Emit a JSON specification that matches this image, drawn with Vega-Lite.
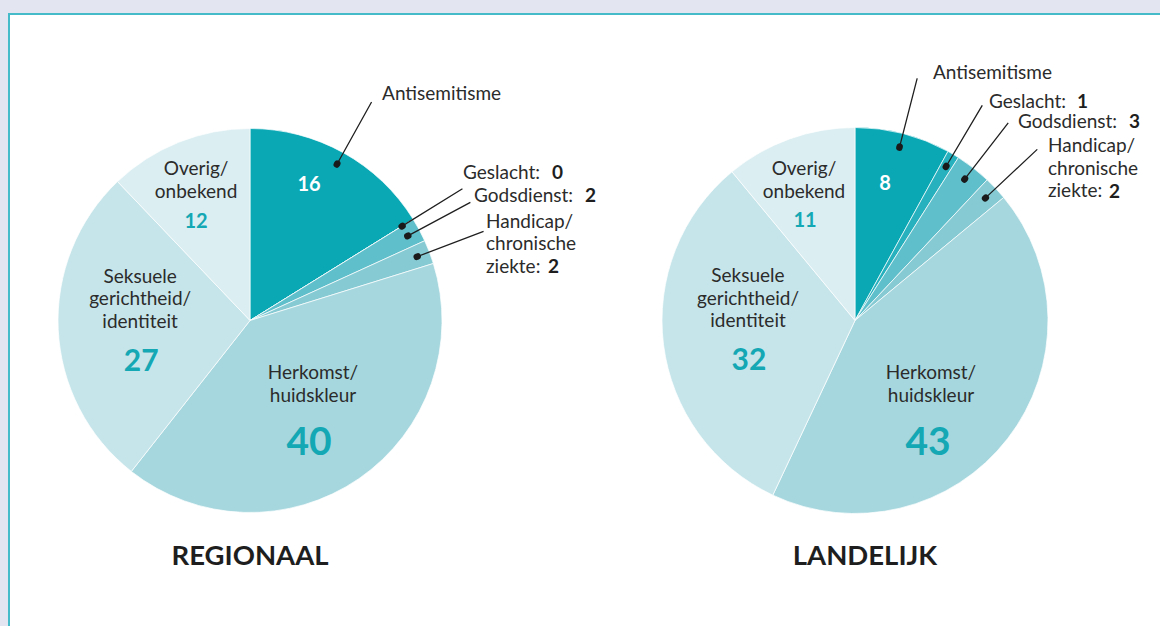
{
  "$schema": "https://vega.github.io/schema/vega-lite/v6.json",
  "width": 1156,
  "height": 613,
  "autosize": "none",
  "padding": {"left": 9, "top": 14, "right": -5, "bottom": -1},
  "background": "#e3e6f0",
  "config": {
    "font": "Lato",
    "view": {"stroke": "#45bac8", "strokeWidth": 2, "fill": "#ffffff"}
  },
  "data": {
    "values": [
      {"scope": "REGIONAAL", "cat": "Antisemitisme", "idx": 1, "value": 16, "name": "Antisemitisme"},
      {"scope": "REGIONAAL", "cat": "Geslacht", "idx": 2, "value": 0, "name": "Geslacht:"},
      {"scope": "REGIONAAL", "cat": "Godsdienst", "idx": 3, "value": 2, "name": "Godsdienst:"},
      {"scope": "REGIONAAL", "cat": "Handicap", "idx": 4, "value": 2, "name": "Handicap/\nchronische\nziekte:"},
      {"scope": "REGIONAAL", "cat": "Herkomst", "idx": 5, "value": 40, "name": "Herkomst/\nhuidskleur"},
      {"scope": "REGIONAAL", "cat": "Seksuele", "idx": 6, "value": 27, "name": "Seksuele\ngerichtheid/\nidentiteit"},
      {"scope": "REGIONAAL", "cat": "Overig", "idx": 7, "value": 12, "name": "Overig/\nonbekend"},
      {"scope": "LANDELIJK", "cat": "Antisemitisme", "idx": 1, "value": 8, "name": "Antisemitisme"},
      {"scope": "LANDELIJK", "cat": "Geslacht", "idx": 2, "value": 1, "name": "Geslacht:"},
      {"scope": "LANDELIJK", "cat": "Godsdienst", "idx": 3, "value": 3, "name": "Godsdienst:"},
      {"scope": "LANDELIJK", "cat": "Handicap", "idx": 4, "value": 2, "name": "Handicap/\nchronische\nziekte:"},
      {"scope": "LANDELIJK", "cat": "Herkomst", "idx": 5, "value": 43, "name": "Herkomst/\nhuidskleur"},
      {"scope": "LANDELIJK", "cat": "Seksuele", "idx": 6, "value": 32, "name": "Seksuele\ngerichtheid/\nidentiteit"},
      {"scope": "LANDELIJK", "cat": "Overig", "idx": 7, "value": 11, "name": "Overig/\nonbekend"}
    ]
  },
  "encoding": {
    "x": {
      "field": "scope",
      "type": "nominal",
      "axis": null,
      "scale": {"type": "point", "domain": ["REGIONAAL", "LANDELIJK"], "padding": 0.4554, "align": 0.4374}
    }
  },
  "layer": [
    {
      "transform": [{"filter": "datum.scope === 'REGIONAAL'"}],
      "encoding": {
        "theta": {"field": "value", "type": "quantitative", "stack": "normalize"},
        "order": {"field": "idx", "type": "quantitative"},
        "detail": {"field": "cat", "type": "nominal"}
      },
      "layer": [
        {
          "mark": {"type": "arc", "radius": 192, "stroke": "#ffffff", "strokeWidth": 0.7},
          "encoding": {
            "color": {
              "field": "cat", "type": "nominal", "legend": null,
              "scale": {
                "domain": ["Antisemitisme", "Geslacht", "Godsdienst", "Handicap", "Herkomst", "Seksuele", "Overig"],
                "range": ["#0aa8b5", "#27b0bd", "#5fbfcb", "#86cbd4", "#a6d7de", "#c6e5ea", "#dbeef2"]
              }
            }
          }
        },
        {
          "mark": {"type": "arc", "radius": 250, "radius2": 178, "padAngle": 1, "stroke": "#1f1f1f", "strokeWidth": 1.3, "fillOpacity": 0},
          "encoding": {"strokeOpacity": {"condition": {"test": "datum.idx <= 4", "value": 1}, "value": 0}}
        },
        {
          "mark": {"type": "arc", "radius": 179.5, "radius2": 178.5, "padAngle": 1, "stroke": "#1a1a1a", "strokeWidth": 6.5, "strokeJoin": "round", "strokeCap": "round", "fillOpacity": 0},
          "encoding": {"strokeOpacity": {"condition": {"test": "datum.idx <= 4", "value": 1}, "value": 0}}
        },
        {
          "mark": {"type": "text", "radius": 258, "dx": 6.6, "dy": -1, "align": "left", "baseline": "middle", "fontSize": 19, "color": "#2b2b2b"},
          "encoding": {"text": {"condition": {"test": "datum.cat === 'Antisemitisme'", "field": "name"}, "value": ""}}
        },
        {
          "mark": {"type": "text", "radius": 258, "dx": -6.2, "dy": -11.5, "align": "left", "baseline": "middle", "fontSize": 19, "color": "#2b2b2b"},
          "encoding": {"text": {"condition": {"test": "datum.cat === 'Geslacht'", "field": "name"}, "value": ""}}
        },
        {
          "mark": {"type": "text", "radius": 258, "dx": 82.8, "dy": -11.5, "align": "left", "baseline": "middle", "fontSize": 19, "fontWeight": "bold", "color": "#1e1e1e"},
          "encoding": {"text": {"condition": {"test": "datum.cat === 'Geslacht'", "field": "value"}, "value": ""}}
        },
        {
          "mark": {"type": "text", "radius": 258, "dx": -3.4, "dy": -2.7, "align": "left", "baseline": "middle", "fontSize": 19, "color": "#2b2b2b"},
          "encoding": {"text": {"condition": {"test": "datum.cat === 'Godsdienst'", "field": "name"}, "value": ""}}
        },
        {
          "mark": {"type": "text", "radius": 258, "dx": 107.6, "dy": -2.7, "align": "left", "baseline": "middle", "fontSize": 19, "fontWeight": "bold", "color": "#1e1e1e"},
          "encoding": {"text": {"condition": {"test": "datum.cat === 'Godsdienst'", "field": "value"}, "value": ""}}
        },
        {
          "mark": {"type": "text", "radius": 258, "dx": -5, "dy": -6.5, "align": "left", "baseline": "middle", "fontSize": 19, "lineHeight": 22.5, "lineBreak": "\n", "color": "#2b2b2b"},
          "encoding": {"text": {"condition": {"test": "datum.cat === 'Handicap'", "field": "name"}, "value": ""}}
        },
        {
          "mark": {"type": "text", "radius": 258, "dx": 57, "dy": 38.6, "align": "left", "baseline": "middle", "fontSize": 19, "fontWeight": "bold", "color": "#1e1e1e"},
          "encoding": {"text": {"condition": {"test": "datum.cat === 'Handicap'", "field": "value"}, "value": ""}}
        },
        {
          "mark": {"type": "text", "radius": 150, "dx": -13.9, "dy": -4, "align": "center", "baseline": "middle", "fontSize": 20, "fontWeight": "bold", "color": "#ffffff"},
          "encoding": {"text": {"condition": {"test": "datum.cat === 'Antisemitisme'", "field": "value"}, "value": ""}}
        },
        {
          "mark": {"type": "text", "radius": 150, "dx": 1.8, "dy": -11.75, "align": "center", "baseline": "middle", "fontSize": 19, "lineHeight": 22.5, "lineBreak": "\n", "color": "#2b2b2b"},
          "encoding": {"text": {"condition": {"test": "datum.cat === 'Overig'", "field": "name"}, "value": ""}}
        },
        {
          "mark": {"type": "text", "radius": 150, "dx": 1.8, "dy": 40.8, "align": "center", "baseline": "middle", "fontSize": 20, "fontWeight": "bold", "color": "#14a7b4"},
          "encoding": {"text": {"condition": {"test": "datum.cat === 'Overig'", "field": "value"}, "value": ""}}
        },
        {
          "mark": {"type": "text", "radius": 110, "dx": 0, "dy": -49, "align": "center", "baseline": "middle", "fontSize": 19, "lineHeight": 22.5, "lineBreak": "\n", "color": "#2b2b2b"},
          "encoding": {"text": {"condition": {"test": "datum.cat === 'Seksuele'", "field": "name"}, "value": ""}}
        },
        {
          "mark": {"type": "text", "radius": 110, "dx": 1, "dy": 36, "align": "center", "baseline": "middle", "fontSize": 30, "fontWeight": "bold", "color": "#14a7b4"},
          "encoding": {"text": {"condition": {"test": "datum.cat === 'Seksuele'", "field": "value"}, "value": ""}}
        },
        {
          "mark": {"type": "text", "radius": 100, "dx": 6.3, "dy": -29.5, "align": "center", "baseline": "middle", "fontSize": 19, "lineHeight": 22.5, "lineBreak": "\n", "color": "#2b2b2b"},
          "encoding": {"text": {"condition": {"test": "datum.cat === 'Herkomst'", "field": "name"}, "value": ""}}
        },
        {
          "mark": {"type": "text", "radius": 100, "dx": 2.3, "dy": 40, "align": "center", "baseline": "middle", "fontSize": 39, "fontWeight": "bold", "color": "#14a7b4"},
          "encoding": {"text": {"condition": {"test": "datum.cat === 'Herkomst'", "field": "value"}, "value": ""}}
        }
      ]
    },
    {
      "transform": [{"filter": "datum.scope === 'LANDELIJK'"}],
      "encoding": {
        "theta": {"field": "value", "type": "quantitative", "stack": "normalize"},
        "order": {"field": "idx", "type": "quantitative"},
        "detail": {"field": "cat", "type": "nominal"}
      },
      "layer": [
        {
          "mark": {"type": "arc", "radius": 193, "stroke": "#ffffff", "strokeWidth": 0.7},
          "encoding": {
            "color": {
              "field": "cat", "type": "nominal", "legend": null,
              "scale": {
                "domain": ["Antisemitisme", "Geslacht", "Godsdienst", "Handicap", "Herkomst", "Seksuele", "Overig"],
                "range": ["#0aa8b5", "#27b0bd", "#5fbfcb", "#86cbd4", "#a6d7de", "#c6e5ea", "#dbeef2"]
              }
            }
          }
        },
        {
          "mark": {"type": "arc", "radius": 250, "radius2": 178, "padAngle": 1, "stroke": "#1f1f1f", "strokeWidth": 1.3, "fillOpacity": 0},
          "encoding": {"strokeOpacity": {"condition": {"test": "datum.idx <= 4", "value": 1}, "value": 0}}
        },
        {
          "mark": {"type": "arc", "radius": 179.5, "radius2": 178.5, "padAngle": 1, "stroke": "#1a1a1a", "strokeWidth": 6.5, "strokeJoin": "round", "strokeCap": "round", "fillOpacity": 0},
          "encoding": {"strokeOpacity": {"condition": {"test": "datum.idx <= 4", "value": 1}, "value": 0}}
        },
        {
          "mark": {"type": "text", "radius": 258, "dx": 13.8, "dy": 2, "align": "left", "baseline": "middle", "fontSize": 19, "color": "#2b2b2b"},
          "encoding": {"text": {"condition": {"test": "datum.cat === 'Antisemitisme'", "field": "name"}, "value": ""}}
        },
        {
          "mark": {"type": "text", "radius": 258, "dx": 2.7, "dy": 3.1, "align": "left", "baseline": "middle", "fontSize": 19, "color": "#2b2b2b"},
          "encoding": {"text": {"condition": {"test": "datum.cat === 'Geslacht'", "field": "name"}, "value": ""}}
        },
        {
          "mark": {"type": "text", "radius": 258, "dx": 90.7, "dy": 3.1, "align": "left", "baseline": "middle", "fontSize": 19, "fontWeight": "bold", "color": "#1e1e1e"},
          "encoding": {"text": {"condition": {"test": "datum.cat === 'Geslacht'", "field": "value"}, "value": ""}}
        },
        {
          "mark": {"type": "text", "radius": 258, "dx": 4.9, "dy": 4.9, "align": "left", "baseline": "middle", "fontSize": 19, "color": "#2b2b2b"},
          "encoding": {"text": {"condition": {"test": "datum.cat === 'Godsdienst'", "field": "name"}, "value": ""}}
        },
        {
          "mark": {"type": "text", "radius": 258, "dx": 115.9, "dy": 4.9, "align": "left", "baseline": "middle", "fontSize": 19, "fontWeight": "bold", "color": "#1e1e1e"},
          "encoding": {"text": {"condition": {"test": "datum.cat === 'Godsdienst'", "field": "value"}, "value": ""}}
        },
        {
          "mark": {"type": "text", "radius": 258, "dx": 4.9, "dy": 2.5, "align": "left", "baseline": "middle", "fontSize": 19, "lineHeight": 22.5, "lineBreak": "\n", "color": "#2b2b2b"},
          "encoding": {"text": {"condition": {"test": "datum.cat === 'Handicap'", "field": "name"}, "value": ""}}
        },
        {
          "mark": {"type": "text", "radius": 258, "dx": 66, "dy": 48.6, "align": "left", "baseline": "middle", "fontSize": 19, "fontWeight": "bold", "color": "#1e1e1e"},
          "encoding": {"text": {"condition": {"test": "datum.cat === 'Handicap'", "field": "value"}, "value": ""}}
        },
        {
          "mark": {"type": "text", "radius": 150, "dx": -7.3, "dy": 8.5, "align": "center", "baseline": "middle", "fontSize": 20, "fontWeight": "bold", "color": "#ffffff"},
          "encoding": {"text": {"condition": {"test": "datum.cat === 'Antisemitisme'", "field": "value"}, "value": ""}}
        },
        {
          "mark": {"type": "text", "radius": 150, "dx": -0.2, "dy": -10.15, "align": "center", "baseline": "middle", "fontSize": 19, "lineHeight": 22.5, "lineBreak": "\n", "color": "#2b2b2b"},
          "encoding": {"text": {"condition": {"test": "datum.cat === 'Overig'", "field": "name"}, "value": ""}}
        },
        {
          "mark": {"type": "text", "radius": 150, "dx": 0.8, "dy": 42.1, "align": "center", "baseline": "middle", "fontSize": 20, "fontWeight": "bold", "color": "#14a7b4"},
          "encoding": {"text": {"condition": {"test": "datum.cat === 'Overig'", "field": "value"}, "value": ""}}
        },
        {
          "mark": {"type": "text", "radius": 110, "dx": 2.1, "dy": -58, "align": "center", "baseline": "middle", "fontSize": 19, "lineHeight": 22.5, "lineBreak": "\n", "color": "#2b2b2b"},
          "encoding": {"text": {"condition": {"test": "datum.cat === 'Seksuele'", "field": "name"}, "value": ""}}
        },
        {
          "mark": {"type": "text", "radius": 110, "dx": 3.1, "dy": 27, "align": "center", "baseline": "middle", "fontSize": 30, "fontWeight": "bold", "color": "#14a7b4"},
          "encoding": {"text": {"condition": {"test": "datum.cat === 'Seksuele'", "field": "value"}, "value": ""}}
        },
        {
          "mark": {"type": "text", "radius": 100, "dx": -3, "dy": -8.5, "align": "center", "baseline": "middle", "fontSize": 19, "lineHeight": 22.5, "lineBreak": "\n", "color": "#2b2b2b"},
          "encoding": {"text": {"condition": {"test": "datum.cat === 'Herkomst'", "field": "name"}, "value": ""}}
        },
        {
          "mark": {"type": "text", "radius": 100, "dx": -6, "dy": 61.5, "align": "center", "baseline": "middle", "fontSize": 39, "fontWeight": "bold", "color": "#14a7b4"},
          "encoding": {"text": {"condition": {"test": "datum.cat === 'Herkomst'", "field": "value"}, "value": ""}}
        }
      ]
    },
    {
      "transform": [
        {"aggregate": [{"op": "count", "as": "n"}], "groupby": ["scope"]},
        {"filter": "datum.scope === 'REGIONAAL'"}
      ],
      "mark": {"type": "text", "dy": 236.5, "align": "center", "baseline": "middle", "fontSize": 27.5, "fontWeight": "bold", "color": "#1e1e1e"},
      "encoding": {"text": {"field": "scope", "type": "nominal"}}
    },
    {
      "transform": [
        {"aggregate": [{"op": "count", "as": "n"}], "groupby": ["scope"]},
        {"filter": "datum.scope === 'LANDELIJK'"}
      ],
      "mark": {"type": "text", "dx": 10, "dy": 236.5, "align": "center", "baseline": "middle", "fontSize": 27.5, "fontWeight": "bold", "color": "#1e1e1e"},
      "encoding": {"text": {"field": "scope", "type": "nominal"}}
    }
  ]
}
